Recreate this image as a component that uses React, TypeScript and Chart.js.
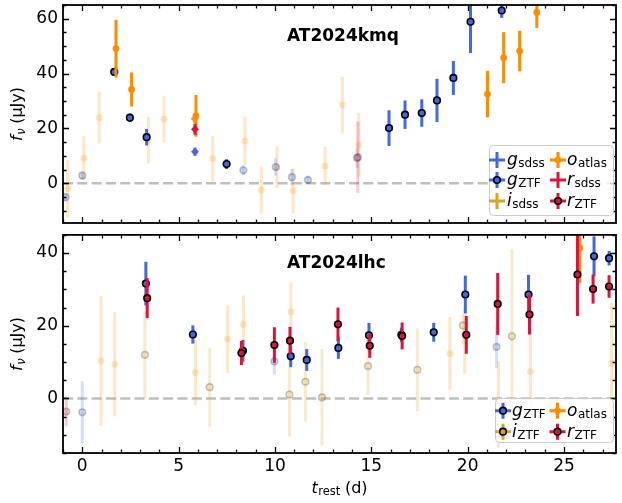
import React, { useEffect, useRef } from "react";
import { Chart, registerables } from "chart.js";
Chart.register(...registerables);

const FONT = "'DejaVu Sans', sans-serif";
const BLUE = "#4169e1";
const ORANGE = "#ff8c00";
const RED = "#dc143c";
const GOLD = "#daa520";
const FADE = 0.22;

// ---------- axis ticks ----------
const xMajorTicks = [0, 5, 10, 15, 20, 25];
const yMajorTicksTop = [0, 20, 40, 60];
const yMajorTicksBottom = [0, 20, 40];

// ---------- AT2024kmq (top panel) ----------
const kmqGsdssT = [5.85];
const kmqGsdssF = [11.5];
const kmqGsdssE = [1.5];

const kmqRsdssT = [5.85];
const kmqRsdssF = [19.7];
const kmqRsdssE = [2.0];

const kmqIsdssT = [5.83];
const kmqIsdssF = [23.5];
const kmqIsdssE = [1.5];

const kmqGztfT = [1.66, 2.47, 3.34, 7.49, 15.92, 16.75, 17.62, 18.41, 19.26, 20.15, 21.77];
const kmqGztfF = [40.6, 23.9, 16.8, 7.0, 20.1, 25.0, 25.6, 30.2, 38.4, 58.9, 63.0];
const kmqGztfE = [1.0, 1.5, 3.0, 1.8, 6.5, 5.2, 5.0, 7.9, 6.2, 11.4, 2.7];

const kmqGztfFadedT = [-0.87, 0.0, 8.36, 10.04, 10.88, 11.71, 14.26];
const kmqGztfFadedF = [-5.1, 2.8, 4.7, 5.9, 2.2, 1.2, 9.2];
const kmqGztfFadedE = [1.5, 1.5, 1.8, 3.2, 3.0, 1.5, 3.6];

const kmqRztfFadedT = [14.3];
const kmqRztfFadedF = [9.5];
const kmqRztfFadedE = [13.0];

const kmqOatlasT = [1.75, 2.56, 5.9, 21.03, 21.87, 22.7, 23.59];
const kmqOatlasF = [49.1, 34.2, 24.6, 32.5, 45.8, 48.2, 62.3];
const kmqOatlasE = [10.5, 6.2, 7.6, 8.5, 9.3, 7.4, 5.7];

const kmqOatlasFadedT = [-0.76, 0.08, 0.88, 3.43, 4.24, 6.77, 8.44, 9.29, 10.1, 10.94, 12.6, 13.5, 14.35];
const kmqOatlasFadedF = [-2.0, 9.1, 23.9, 15.7, 23.4, 9.0, 15.4, -2.5, 5.8, -2.7, 6.3, 28.5, 14.0];
const kmqOatlasFadedE = [10.5, 8.0, 9.4, 8.5, 8.5, 8.3, 8.8, 8.5, 7.6, 8.2, 7.0, 10.3, 11.6];

// ---------- AT2024lhc (bottom panel) ----------
const lhcGztfT = [3.3, 5.74, 8.34, 10.82, 11.65, 13.29, 14.88, 16.56, 18.24, 19.88, 23.16, 26.56, 27.34];
const lhcGztfF = [31.6, 17.6, 13.1, 11.6, 10.6, 13.9, 17.4, 17.5, 18.2, 28.6, 28.6, 39.1, 38.6];
const lhcGztfE = [6.0, 2.5, 3.0, 3.0, 3.0, 3.0, 3.4, 2.0, 2.6, 5.2, 5.4, 5.5, 2.0];

const lhcRztfT = [3.37, 8.26, 9.97, 10.78, 13.27, 14.92, 16.6, 19.93, 21.56, 23.21, 25.7, 26.51, 27.34];
const lhcRztfF = [27.6, 12.5, 14.7, 15.9, 20.4, 14.5, 17.2, 17.5, 26.0, 23.1, 34.1, 30.1, 30.8];
const lhcRztfE = [5.5, 3.3, 4.9, 3.8, 4.6, 3.3, 3.7, 5.2, 8.5, 5.5, 11.4, 4.0, 3.1];

const lhcOatlasT = [25.82];
const lhcOatlasF = [41.4];
const lhcOatlasE = [9.6];

const lhcGztfFadedT = [0.0, 9.97, 21.5];
const lhcGztfFadedF = [-3.8, 10.2, 14.2];
const lhcGztfFadedE = [8.5, 3.6, 5.9];

const lhcRztfFadedT = [-0.83];
const lhcRztfFadedF = [-3.6];
const lhcRztfFadedE = [4.0];

const lhcIztfFadedT = [3.25, 6.61, 10.75, 11.58, 12.44, 14.83, 17.39, 19.76, 22.3];
const lhcIztfFadedF = [12.0, 3.1, 1.1, 4.6, 0.3, 8.9, 7.9, 20.1, 17.1];
const lhcIztfFadedE = [12.0, 10.8, 11.6, 11.0, 13.3, 8.0, 11.4, 3.0, 24.0];

const lhcOatlasFadedT = [0.97, 1.69, 5.87, 7.54, 8.36, 10.83, 19.08, 19.85, 21.6, 23.26, 27.47];
const lhcOatlasFadedF = [10.3, 9.4, 7.1, 16.3, 20.4, 23.8, 12.4, 15.8, -1.7, 7.4, 9.7];
const lhcOatlasFadedE = [17.8, 14.3, 9.0, 9.3, 8.0, 8.0, 10.0, 9.0, 12.0, 11.9, 16.6];

// ---------- helpers ----------
type Marker = "edge" | "dot" | "diamond";
interface Series {
  t: number[];
  f: number[];
  e: number[];
  color: string;
  marker: Marker;
  faded: boolean;
}

function rgba(hex: string, a: number) {
  const n = parseInt(hex.slice(1), 16);
  return `rgba(${(n >> 16) & 255},${(n >> 8) & 255},${n & 255},${a})`;
}

function toDatasets(list: Series[]) {
  return list.map((s, i) => {
    const a = s.faded ? FADE : 1;
    const base: any = {
      data: s.t.map((t, k) => ({ x: t, y: s.f[k] })),
      order: -i,
      clip: 0,
      showLine: false,
      backgroundColor: rgba(s.color, a),
      pointHoverRadius: 0,
    };
    if (s.marker === "edge") {
      base.pointStyle = "circle";
      base.pointRadius = 3.3;
      base.borderColor = `rgba(0,0,0,${a})`;
      base.borderWidth = 1.6;
    } else if (s.marker === "dot") {
      base.pointStyle = "circle";
      base.pointRadius = 3.4;
      base.borderColor = rgba(s.color, a);
      base.borderWidth = 0;
    } else {
      base.pointStyle = "rectRot";
      base.pointRadius = 4;
      base.borderColor = rgba(s.color, a);
      base.borderWidth = 0;
    }
    return base;
  });
}

interface LegendItem {
  main: string;
  sub: string;
  color: string;
  marker: "none" | "edge" | "dot";
  mx: number;
  my: number;
  tx: number;
}

interface PanelCfg {
  series: Series[];
  title: string;
  titleX: number;
  titleY: number;
  yTitleX: number;
  legendBox: [number, number, number, number];
  legend: LegendItem[];
  xTitle: boolean;
}

function makePlugin(cfg: PanelCfg) {
  return {
    id: "panel",
    beforeDatasetsDraw(chart: any) {
      const { ctx, chartArea } = chart;
      const y0 = chart.scales.y.getPixelForValue(0);
      ctx.save();
      ctx.strokeStyle = "rgba(128,128,128,0.5)";
      ctx.lineWidth = 2.5;
      ctx.setLineDash([10, 4.3]);
      ctx.beginPath();
      ctx.moveTo(chartArea.left, y0);
      ctx.lineTo(chartArea.right, y0);
      ctx.stroke();
      ctx.restore();
    },
    beforeDatasetDraw(chart: any, args: any) {
      const s = cfg.series[args.index];
      if (!s) return;
      const { ctx, chartArea } = chart;
      const xs = chart.scales.x;
      const ys = chart.scales.y;
      ctx.save();
      ctx.beginPath();
      ctx.rect(chartArea.left, chartArea.top, chartArea.right - chartArea.left, chartArea.bottom - chartArea.top);
      ctx.clip();
      ctx.strokeStyle = rgba(s.color, s.faded ? FADE : 1);
      ctx.lineWidth = 3;
      ctx.lineCap = "butt";
      s.t.forEach((t, k) => {
        const px = xs.getPixelForValue(t);
        const p1 = ys.getPixelForValue(s.f[k] - s.e[k]);
        const p2 = ys.getPixelForValue(s.f[k] + s.e[k]);
        ctx.beginPath();
        ctx.moveTo(px, p1);
        ctx.lineTo(px, p2);
        ctx.stroke();
      });
      ctx.restore();
    },
    afterDatasetsDraw(chart: any) {
      const { ctx, chartArea } = chart;
      const { left, right, top, bottom } = chartArea;
      const xs = chart.scales.x;
      const ys = chart.scales.y;
      ctx.save();
      ctx.strokeStyle = "#000";
      ctx.lineWidth = 1.3;
      for (let v = Math.ceil(xs.min); v <= xs.max; v += 1) {
        const p = Math.round(xs.getPixelForValue(v)) + 0.5;
        const L = xMajorTicks.includes(v) ? 6 : 3.5;
        ctx.beginPath();
        ctx.moveTo(p, bottom);
        ctx.lineTo(p, bottom - L);
        ctx.moveTo(p, top);
        ctx.lineTo(p, top + L);
        ctx.stroke();
      }
      for (let v = Math.ceil(ys.min / 5) * 5; v <= ys.max; v += 5) {
        const p = Math.round(ys.getPixelForValue(v)) + 0.5;
        const L = v % 20 === 0 ? 6 : 3.5;
        ctx.beginPath();
        ctx.moveTo(left, p);
        ctx.lineTo(left + L, p);
        ctx.moveTo(right, p);
        ctx.lineTo(right - L, p);
        ctx.stroke();
      }
      ctx.lineWidth = 1.8;
      ctx.strokeRect(left, top, right - left, bottom - top);
      ctx.restore();
    },
    afterDraw(chart: any) {
      const { ctx, chartArea } = chart;
      ctx.save();
      ctx.fillStyle = "#000";
      ctx.textBaseline = "alphabetic";
      // panel title
      ctx.font = `bold 17px ${FONT}`;
      ctx.textAlign = "left";
      ctx.fillText(cfg.title, cfg.titleX, cfg.titleY);

      // y title
      const cy = (chartArea.top + chartArea.bottom) / 2;
      ctx.save();
      ctx.translate(cfg.yTitleX, cy);
      ctx.rotate(-Math.PI / 2);
      const fMain = `italic 16px ${FONT}`;
      const fSub = `italic 11.5px ${FONT}`;
      const fReg = `16px ${FONT}`;
      ctx.font = fMain;
      const w1 = ctx.measureText("f").width;
      ctx.font = fSub;
      const w2 = ctx.measureText("ν").width;
      ctx.font = fReg;
      const w3 = ctx.measureText(" (μJy)").width;
      let x0 = -(w1 + w2 + w3) / 2;
      ctx.font = fMain;
      ctx.fillText("f", x0, 0);
      ctx.font = fSub;
      ctx.fillText("ν", x0 + w1 + 0.5, 3);
      ctx.font = fReg;
      ctx.fillText(" (μJy)", x0 + w1 + w2, 0);
      ctx.restore();

      // x title
      if (cfg.xTitle) {
        const cx = (chartArea.left + chartArea.right) / 2;
        const by = chartArea.bottom + 39.5;
        ctx.font = fMain;
        const a1 = ctx.measureText("t").width;
        ctx.font = `11.5px ${FONT}`;
        const a2 = ctx.measureText("rest").width;
        ctx.font = fReg;
        const a3 = ctx.measureText(" (d)").width;
        const sx = cx - (a1 + a2 + a3) / 2;
        ctx.font = fMain;
        ctx.fillText("t", sx, by);
        ctx.font = `11.5px ${FONT}`;
        ctx.fillText("rest", sx + a1 + 0.5, by + 2.5);
        ctx.font = fReg;
        ctx.fillText(" (d)", sx + a1 + a2, by);
      }

      // legend
      const [bx, by2, bw, bh] = cfg.legendBox;
      ctx.beginPath();
      (ctx as any).roundRect(bx + 0.5, by2 + 0.5, bw, bh, 4);
      ctx.fillStyle = "rgba(255,255,255,0.8)";
      ctx.fill();
      ctx.strokeStyle = "#cccccc";
      ctx.lineWidth = 1;
      ctx.stroke();
      cfg.legend.forEach((it) => {
        ctx.strokeStyle = it.color;
        ctx.lineWidth = 3;
        ctx.beginPath();
        ctx.moveTo(it.mx - 8, it.my);
        ctx.lineTo(it.mx + 8, it.my);
        ctx.moveTo(it.mx, it.my - 8);
        ctx.lineTo(it.mx, it.my + 8);
        ctx.stroke();
        if (it.marker !== "none") {
          ctx.beginPath();
          ctx.arc(it.mx, it.my, 3.3, 0, Math.PI * 2);
          ctx.fillStyle = it.color;
          ctx.fill();
          if (it.marker === "edge") {
            ctx.strokeStyle = "#000";
            ctx.lineWidth = 1.6;
            ctx.stroke();
          }
        }
        ctx.fillStyle = "#000";
        ctx.font = `italic 17px ${FONT}`;
        ctx.fillText(it.main, it.tx, it.my + 5);
        const mw = ctx.measureText(it.main).width;
        ctx.font = `12px ${FONT}`;
        ctx.fillText(it.sub, it.tx + mw + 0.5, it.my + 7);
      });
      ctx.restore();
    },
  };
}

function makeConfig(cfg: PanelCfg, yMin: number, yMax: number, yTicks: number[], showX: boolean, padTop: number, xHeight: number) {
  return {
    type: "scatter" as const,
    data: { datasets: toDatasets(cfg.series) },
    options: {
      animation: false,
      responsive: false,
      events: [],
      layout: { padding: { left: 0, right: 6, top: padTop, bottom: 0 } },
      plugins: { legend: { display: false }, tooltip: { enabled: false } },
      scales: {
        x: {
          type: "linear",
          min: -1,
          max: 27.7,
          grid: { display: false, drawTicks: false },
          border: { display: false },
          ticks: { display: showX, font: { family: FONT, size: 17 }, color: "#000", padding: 3, maxRotation: 0 },
          afterBuildTicks: (axis: any) => {
            axis.ticks = xMajorTicks.map((v) => ({ value: v }));
          },
          afterFit: (axis: any) => {
            axis.height = xHeight;
            axis.paddingLeft = 0;
            axis.paddingRight = 0;
            axis.paddingTop = 0;
            axis.paddingBottom = 0;
          },
        },
        y: {
          type: "linear",
          min: yMin,
          max: yMax,
          grid: { display: false, drawTicks: false },
          border: { display: false },
          ticks: { font: { family: FONT, size: 17 }, color: "#000", padding: 5 },
          afterBuildTicks: (axis: any) => {
            axis.ticks = yTicks.map((v) => ({ value: v }));
          },
          afterFit: (axis: any) => {
            axis.width = 63;
            axis.paddingTop = 0;
            axis.paddingBottom = 0;
            axis.paddingLeft = 0;
            axis.paddingRight = 0;
          },
        },
      },
    },
    plugins: [makePlugin(cfg)],
  };
}

const topCfg: PanelCfg = {
  series: [
    { t: kmqOatlasFadedT, f: kmqOatlasFadedF, e: kmqOatlasFadedE, color: ORANGE, marker: "dot", faded: true },
    { t: kmqGztfFadedT, f: kmqGztfFadedF, e: kmqGztfFadedE, color: BLUE, marker: "edge", faded: true },
    { t: kmqRztfFadedT, f: kmqRztfFadedF, e: kmqRztfFadedE, color: RED, marker: "edge", faded: true },
    { t: kmqGsdssT, f: kmqGsdssF, e: kmqGsdssE, color: BLUE, marker: "diamond", faded: false },
    { t: kmqGztfT, f: kmqGztfF, e: kmqGztfE, color: BLUE, marker: "edge", faded: false },
    { t: kmqIsdssT, f: kmqIsdssF, e: kmqIsdssE, color: GOLD, marker: "diamond", faded: false },
    { t: kmqOatlasT, f: kmqOatlasF, e: kmqOatlasE, color: ORANGE, marker: "dot", faded: false },
    { t: kmqRsdssT, f: kmqRsdssF, e: kmqRsdssE, color: RED, marker: "diamond", faded: false },
  ],
  title: "AT2024kmq",
  titleX: 287,
  titleY: 40.5,
  yTitleX: 22,
  legendBox: [489, 145, 124, 70],
  legend: [
    { main: "g", sub: "sdss", color: BLUE, marker: "none", mx: 497, my: 160, tx: 507 },
    { main: "g", sub: "ZTF", color: BLUE, marker: "edge", mx: 497, my: 180, tx: 507 },
    { main: "i", sub: "sdss", color: GOLD, marker: "none", mx: 497, my: 201, tx: 507 },
    { main: "o", sub: "atlas", color: ORANGE, marker: "dot", mx: 558, my: 160, tx: 567 },
    { main: "r", sub: "sdss", color: RED, marker: "none", mx: 558, my: 180, tx: 567 },
    { main: "r", sub: "ZTF", color: RED, marker: "edge", mx: 558, my: 201, tx: 567 },
  ],
  xTitle: false,
};

const bottomCfg: PanelCfg = {
  series: [
    { t: lhcOatlasFadedT, f: lhcOatlasFadedF, e: lhcOatlasFadedE, color: ORANGE, marker: "dot", faded: true },
    { t: lhcIztfFadedT, f: lhcIztfFadedF, e: lhcIztfFadedE, color: GOLD, marker: "edge", faded: true },
    { t: lhcGztfFadedT, f: lhcGztfFadedF, e: lhcGztfFadedE, color: BLUE, marker: "edge", faded: true },
    { t: lhcRztfFadedT, f: lhcRztfFadedF, e: lhcRztfFadedE, color: RED, marker: "edge", faded: true },
    { t: lhcGztfT, f: lhcGztfF, e: lhcGztfE, color: BLUE, marker: "edge", faded: false },
    { t: lhcOatlasT, f: lhcOatlasF, e: lhcOatlasE, color: ORANGE, marker: "dot", faded: false },
    { t: lhcRztfT, f: lhcRztfF, e: lhcRztfE, color: RED, marker: "edge", faded: false },
  ],
  title: "AT2024lhc",
  titleX: 287,
  titleY: 37.5,
  yTitleX: 22,
  legendBox: [495, 168, 118, 44],
  legend: [
    { main: "g", sub: "ZTF", color: BLUE, marker: "edge", mx: 503, my: 180.7, tx: 512 },
    { main: "i", sub: "ZTF", color: GOLD, marker: "edge", mx: 503, my: 201.7, tx: 512 },
    { main: "o", sub: "atlas", color: ORANGE, marker: "dot", mx: 557.5, my: 180.7, tx: 567 },
    { main: "r", sub: "ZTF", color: RED, marker: "edge", mx: 557.5, my: 201.7, tx: 567 },
  ],
  xTitle: true,
};

export default function App() {
  const topRef = useRef<HTMLCanvasElement>(null);
  const botRef = useRef<HTMLCanvasElement>(null);

  useEffect(() => {
    const c1 = new Chart(topRef.current!, makeConfig(topCfg, -14.5, 65, yMajorTicksTop, false, 5, 7) as any);
    const c2 = new Chart(botRef.current!, makeConfig(bottomCfg, -15, 45, yMajorTicksBottom, true, 3, 50) as any);
    return () => {
      c1.destroy();
      c2.destroy();
    };
  }, []);

  return (
    <div style={{ position: "absolute", left: 0, top: 0, width: 622, height: 503, background: "#fff" }}>
      <canvas ref={topRef} width={622} height={230} style={{ position: "absolute", left: 0, top: 0, width: 622, height: 230 }} />
      <canvas ref={botRef} width={622} height={273} style={{ position: "absolute", left: 0, top: 230, width: 622, height: 273 }} />
    </div>
  );
}
